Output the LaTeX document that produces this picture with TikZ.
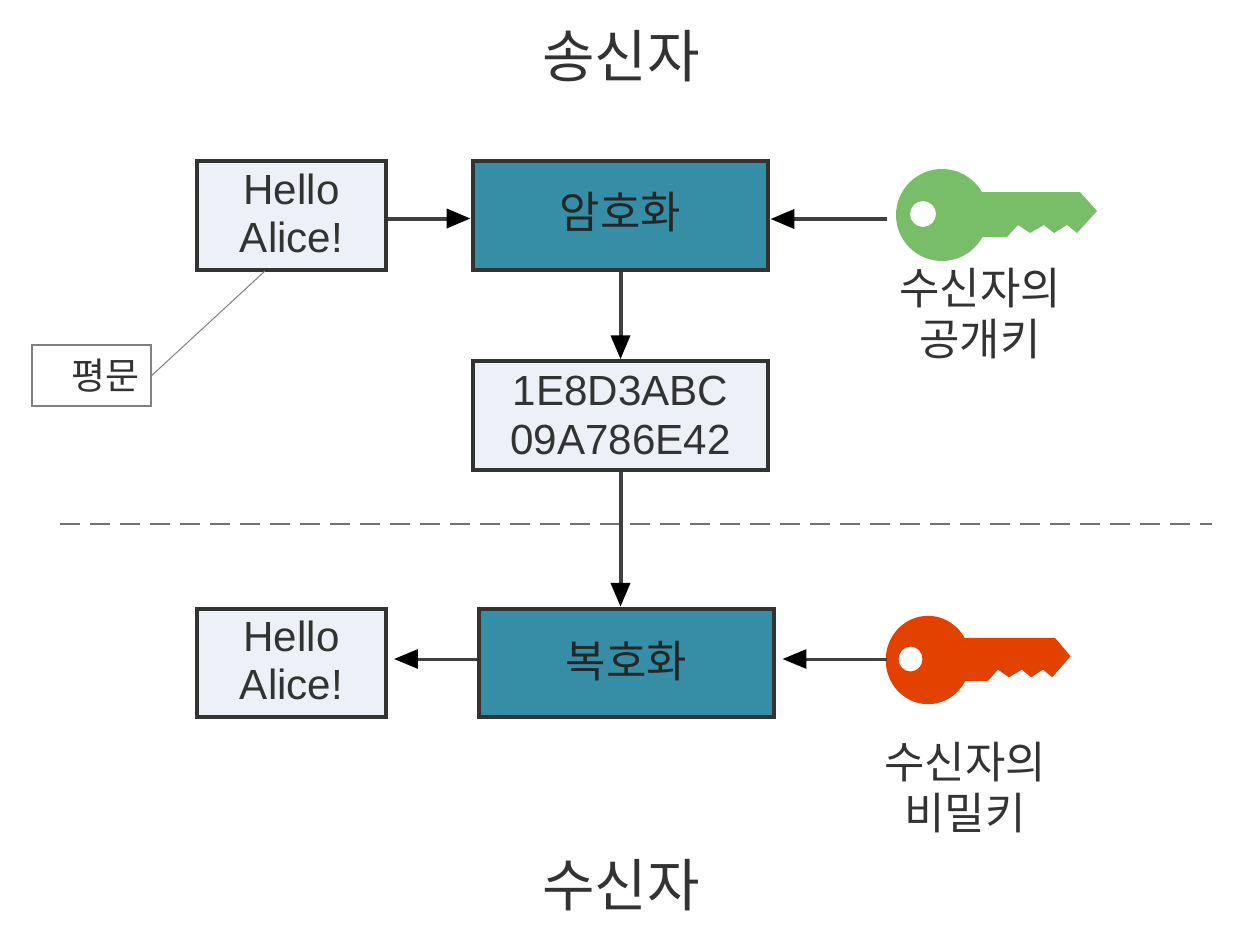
\documentclass[tikz,border=0pt]{standalone}
\usepackage{fontspec}
\setmainfont{Liberation Sans}
\newfontfamily\cjk{Noto Sans CJK KR}
\usetikzlibrary{arrows.meta}
\definecolor{boxfill}{HTML}{EDF1F7}
\definecolor{tealfill}{HTML}{358DA6}
\definecolor{keygreen}{HTML}{78BD68}
\definecolor{keyred}{HTML}{E24100}
\definecolor{inkgray}{HTML}{333333}
\newcommand{\liftline}[1]{\rule[-#1]{0pt}{0pt}}
\tikzset{
    msgbox/.style={draw=inkgray, line width=0.08cm, fill=boxfill, text=inkgray, align=center, inner sep=0pt,
        minimum width=3.78cm, minimum height=2.17cm, font=\fontsize{24}{27.5}\selectfont},
    cryptobox/.style={msgbox, fill=tealfill, text=black!85, minimum width=5.92cm, font=\fontsize{25}{27.5}\selectfont\cjk},
    keylabel/.style={text=inkgray, align=center, font=\fontsize{25}{29}\selectfont\cjk},
    rolelabel/.style={text=inkgray, font=\fontsize{32.5}{36}\selectfont\cjk},
    flow/.style={line width=0.08cm, draw=black!75, -{Triangle[length=0.48cm,width=0.38cm,black]}},
    thinflow/.style={flow, line width=0.06cm, shorten >=0.12cm},
    keyshape/.pic={
        \path[fill=#1, even odd rule] (0,0) circle[radius=46] (-19,-1) circle[radius=13];
        \path[fill=#1] (30,-23) -- (138,-23) -- (155,-4) -- (135,18) -- (125,10) -- (112,18) -- (102,10) -- (88,18) -- (76,10) -- (65,22) -- (30,22) -- cycle;
    }
}
\begin{document}
\begin{tikzpicture}[x=0.02cm,y=-0.02cm]
    \useasboundingbox (0,0) rectangle (1242,930);
    % 제목
    \node[rolelabel] (sender) at (621,56) {송신자};
    \node[rolelabel] (receiver) at (621,885) {수신자};

    % 상자
    \node[msgbox] (hello1) at (291.5,215.5) {Hello\\Alice!\liftline{0.1cm}};
    \node[cryptobox] (encrypt) at (620.5,215.5) {암호화\liftline{0.2cm}};
    \node[msgbox, minimum width=5.92cm] (cipher) at (620.5,415.5) {1E8D3ABC\\09A786E42};
    \node[msgbox] (hello2) at (291.5,663) {Hello\\Alice!\liftline{0.1cm}};
    \node[cryptobox] (decrypt) at (626.5,663) {복호화\liftline{0.16cm}};

    % 평문 설명
    \node[draw=gray, line width=0.03cm, fill=white, text=inkgray, inner sep=0pt, minimum width=2.38cm, minimum height=1.22cm,
        font=\fontsize{21}{24}\selectfont\cjk] (plain) at (91.5,375.5) {\hspace*{0.55cm}평문};
    \coordinate (plainend) at (265,271);
    \draw[gray, line width=0.02cm] (plain.east) -- (plainend);

    % 열쇠
    \pic at (942,215) {keyshape=keygreen};
    \pic[xscale=0.92, yscale=0.96] at (928,660) {keyshape=keyred};
    \coordinate (pubkey) at (887,219);
    \coordinate (seckey) at (887,659);
    \node[keylabel] (publabel) at (980,314) {수신자의\\공개키};
    \node[keylabel] (seclabel) at (965,788) {수신자의\\비밀키};

    % 구분선
    \coordinate (dashl) at (60,524);
    \coordinate (dashr) at (1212,524);
    \draw[black!55, line width=0.05cm, dash pattern=on 0.4cm off 0.2cm] (dashl) -- (dashr);

    % 화살표
    \draw[flow] ([yshift=-0.06cm]hello1.east) -- ([yshift=-0.06cm]encrypt.west);
    \draw[flow] (pubkey) -- (encrypt.east |- pubkey);
    \draw[flow] (encrypt.south) -- (cipher.north);
    \draw[flow] (cipher.south) -- (cipher.south |- decrypt.north);
    \draw[thinflow] (decrypt.west |- seckey) -- (hello2.east |- seckey);
    \draw[thinflow] (seckey) -- (decrypt.east |- seckey);
\end{tikzpicture}
\end{document}
